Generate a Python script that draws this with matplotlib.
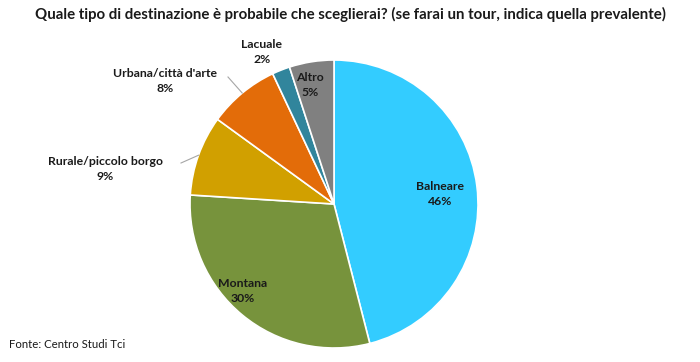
import matplotlib.pyplot as plt
import numpy as np

plt.rcParams['font.family'] = ['Lato', 'DejaVu Sans']

labels = ['Balneare', 'Montana', 'Rurale/piccolo borgo', "Urbana/città d'arte", 'Lacuale', 'Altro']
values = [46, 30, 9, 8, 2, 5]
colors = ['#33CCFF', '#77933C', '#D1A000', '#E36C09', '#31859C', '#808080']

fig = plt.figure(figsize=(7, 3.62), dpi=100)
ax = fig.add_axes([0, 0, 1, 1])

cx, cy, r = 334, 158, 144
wedges, _ = ax.pie(values, colors=colors, startangle=90, counterclock=False,
                   center=(cx, cy), radius=r, frame=True,
                   wedgeprops=dict(edgecolor='white', linewidth=1.2))
ax.set_xlim(0, 700)
ax.set_ylim(0, 362)
ax.set_aspect('equal')
ax.axis('off')

# label positions (pixel coords, y from top)
pos = [(440, 194), (243, 291), (105, 169), (165, 81), (262, 52), (310, 85)]
tcol = '#1a1a1a'
for i, (lab, v) in enumerate(zip(labels, values)):
    x, y = pos[i]
    ax.text(x, 362 - y, f'{lab}\n{v}%', ha='center', va='center',
            fontsize=8.8, fontweight='bold', color=tcol, linespacing=1.55)

# leader lines for outside labels
for i, end in [(2, (181, 163)), (3, (228, 77))]:
    w = wedges[i]
    ang = np.deg2rad((w.theta1 + w.theta2) / 2)
    px, py = cx + r * np.cos(ang), cy + r * np.sin(ang)
    ax.plot([end[0], px], [362 - end[1], py], color='#a6a6a6', lw=0.8)

fig.text(0.5, 1 - 14 / 362, 'Quale tipo di destinazione è probabile che sceglierai? (se farai un tour, indica quella prevalente)',
         ha='center', va='center', fontsize=10.8, fontweight='bold', color='#1a1a1a')
fig.text(9 / 700, 1 - 344 / 362, 'Fonte: Centro Studi Tci', ha='left', va='center', fontsize=8.2, color='#1a1a1a')

fig.savefig('out.png', dpi=100)
